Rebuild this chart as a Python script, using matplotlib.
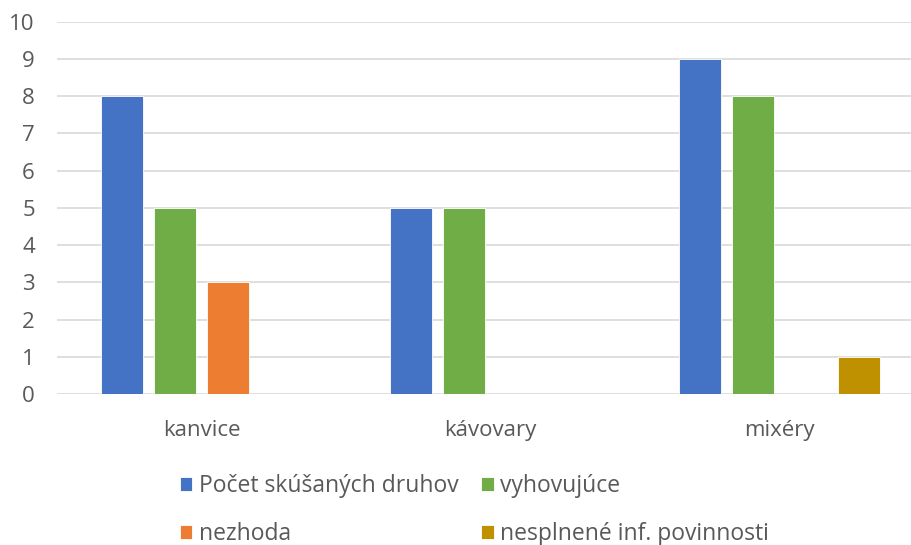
import matplotlib
matplotlib.use('Agg')
import matplotlib.pyplot as plt
import numpy as np

categories = ['kanvice', 'kávovary', 'mixéry']
series_names = ['Počet skúšaných druhov', 'vyhovujúce', 'nezhoda', 'nesplnené inf. povinnosti']
pocet = [8, 5, 9]
vyhovujuce = [5, 5, 8]
nezhoda = [3, 0, 0]
nesplnene = [0, 0, 1]
colors = ['#4472C4', '#70AD47', '#ED7D31', '#BF9000']

plt.rcParams['font.family'] = ['Open Sans', 'DejaVu Sans']

fig = plt.figure(figsize=(9.12, 5.45), dpi=100)
ax = fig.add_axes([0.0625, 0.277, 0.9375, 0.683])

x = np.arange(len(categories))
step = 0.183
width = 0.145
bars = []
for i, (vals, name, col) in enumerate(zip([pocet, vyhovujuce, nezhoda, nesplnene], series_names, colors)):
    b = ax.bar(x + (i - 1.5) * step, vals, width, color=col, label=name,
               edgecolor='white', linewidth=0.6, zorder=3)
    bars.append(b)

ax.set_ylim(0, 10)
ax.set_xlim(-0.5, 2.458)
ax.set_yticks(range(0, 11))
ax.set_xticks(x)
ax.set_xticklabels(categories)
ax.yaxis.grid(True, color='#D9D9D9', linewidth=1.2, zorder=0)
for s in ['top', 'right', 'left', 'bottom']:
    ax.spines[s].set_visible(False)
ax.tick_params(axis='both', length=0, labelsize=16, colors='#595959')
ax.tick_params(axis='y', pad=16)
ax.tick_params(axis='x', pad=19)

order = [0, 2, 1, 3]
leg = fig.legend([bars[i] for i in order], [series_names[i] for i in order],
                 ncol=2, loc='upper left', bbox_to_anchor=(0.197, 0.13),
                 frameon=False, fontsize=16.5, borderpad=0, borderaxespad=0,
                 handlelength=0.55, handleheight=0.55, handletextpad=0.3,
                 labelspacing=1.05, columnspacing=0.97)
for t in leg.get_texts():
    t.set_color('#595959')

fig.savefig('out.png', dpi=100)
